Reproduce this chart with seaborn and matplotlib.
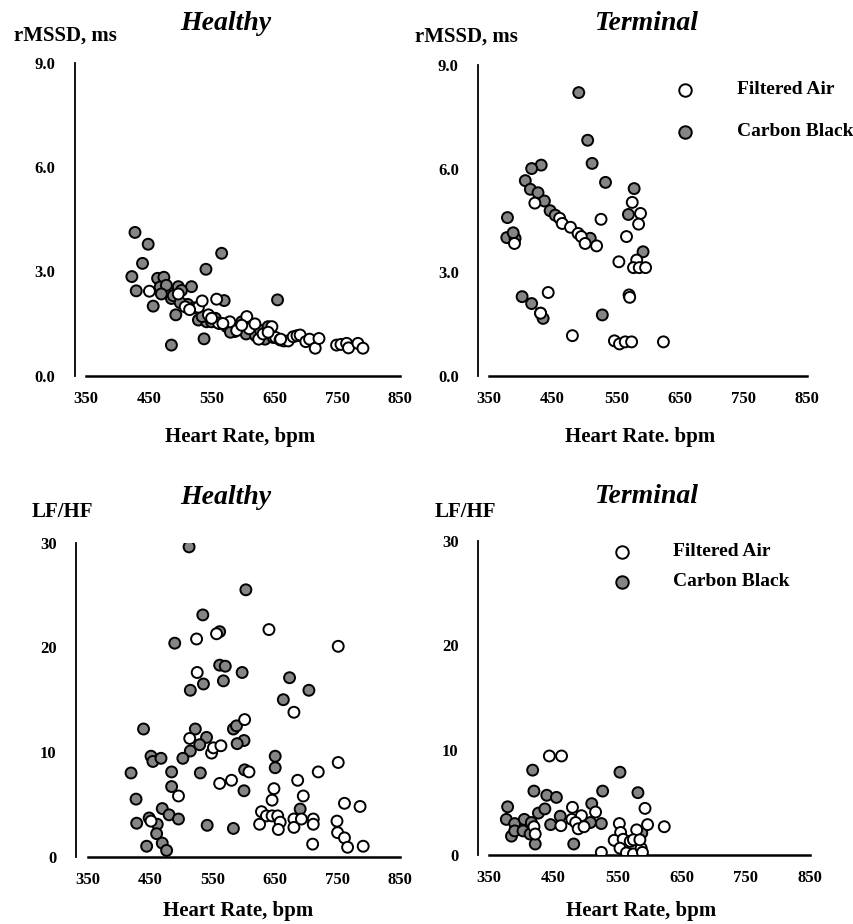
import numpy as np
import pandas as pd
import matplotlib
matplotlib.use("Agg")
import matplotlib.pyplot as plt
import seaborn as sns

# ---------------- data ----------------
# Healthy rMSSD
h_rm_cb_x = [428, 449, 440, 566, 541, 423, 430, 457, 464, 474, 481, 497, 486, 493, 518, 508, 529, 542,
             570, 574, 587, 486, 538, 655, 468, 478, 489, 502, 512, 522, 535, 550, 556, 563, 580, 592,
             598, 605, 612, 620, 628, 635, 640, 648, 470, 500]
h_rm_cb_y = [4.12, 3.78, 3.23, 3.52, 3.06, 2.85, 2.44, 2.00, 2.80, 2.83, 2.42, 2.56, 2.22, 1.75, 2.56, 2.03, 1.60, 1.55,
             2.16, 1.41, 1.27, 0.88, 1.06, 2.18, 2.55, 2.60, 2.30, 2.45, 2.05, 1.95, 1.70, 1.55, 1.65, 1.50, 1.25, 1.35,
             1.55, 1.20, 1.40, 1.15, 1.30, 1.05, 1.41, 1.10, 2.35, 2.10]
h_rm_fa_x = [451, 497, 529, 558, 561, 579, 508, 515, 535, 545, 550, 568, 590, 606, 610, 619, 625, 632, 646, 652,
             659, 665, 672, 680, 686, 691, 700, 706, 715, 721, 749, 756, 765, 768, 783, 791, 598, 640, 660]
h_rm_fa_y = [2.43, 2.35, 1.97, 2.20, 1.51, 1.55, 1.98, 1.90, 2.15, 1.75, 1.65, 1.50, 1.30, 1.70, 1.35, 1.49, 1.05, 1.20,
             1.41, 1.10, 1.03, 1.00, 1.00, 1.12, 1.15, 1.17, 0.98, 1.05, 0.79, 1.07, 0.88, 0.90, 0.93, 0.80, 0.93, 0.79,
             1.45, 1.25, 1.05]

# Terminal rMSSD
t_rm_cb_x = [491, 505, 512, 533, 432, 417, 407, 415, 427, 437, 446, 454, 379, 378, 391, 388, 578, 569, 592, 509,
             402, 417, 431, 435, 528]
t_rm_cb_y = [8.20, 6.82, 6.15, 5.60, 6.10, 6.00, 5.65, 5.40, 5.30, 5.06, 4.78, 4.65, 4.58, 4.00, 3.98, 4.14, 5.42, 4.67,
             3.59, 3.98, 2.29, 2.09, 1.81, 1.66, 1.76]
t_rm_fa_x = [526, 461, 465, 478, 490, 495, 501, 519, 422, 575, 588, 585, 566, 554, 582, 577, 586, 596, 570, 571,
             443, 431, 390, 481, 547, 555, 564, 574, 624]
t_rm_fa_y = [4.53, 4.56, 4.41, 4.30, 4.12, 4.03, 3.83, 3.76, 5.00, 5.02, 4.70, 4.39, 4.03, 3.30, 3.35, 3.13, 3.13, 3.13,
             2.34, 2.27, 2.41, 1.81, 3.83, 1.16, 1.01, 0.92, 0.98, 0.98, 0.98]

# Healthy LF/HF
h_lf_cb_x = [512, 603, 534, 489, 561, 561, 570, 597, 535, 514, 567, 673, 704, 663, 439, 522, 540, 529, 514, 502,
             583, 588, 600, 589, 451, 454, 467, 484, 419, 530, 601, 650, 650, 600, 484, 427, 469, 480, 495, 428,
             448, 461, 460, 469, 476, 444, 541, 583, 690]
h_lf_cb_y = [29.6, 25.5, 23.1, 20.4, 21.5, 18.3, 18.2, 17.6, 16.5, 15.9, 16.8, 17.1, 15.9, 15.0, 12.2, 12.2, 11.4, 10.7,
             10.1, 9.4, 12.2, 12.5, 11.1, 10.8, 9.6, 9.1, 9.4, 8.1, 8.0, 8.0, 8.3, 9.6, 8.5, 6.3, 6.7, 5.5,
             4.6, 4.0, 3.6, 3.2, 3.7, 3.1, 2.2, 1.3, 0.6, 1.0, 3.0, 2.7, 4.55]
h_lf_fa_x = [524, 556, 640, 751, 525, 601, 680, 513, 548, 551, 563, 561, 580, 608, 719, 751, 686, 495, 695, 648,
             645, 628, 636, 645, 654, 658, 655, 625, 680, 680, 692, 711, 711, 710, 761, 786, 749, 750, 761, 766,
             791, 451]
h_lf_fa_y = [20.8, 21.3, 21.7, 20.1, 17.6, 13.1, 13.8, 11.3, 9.9, 10.4, 10.6, 7.0, 7.3, 8.1, 8.1, 9.0, 7.3, 5.8, 5.8, 6.5,
             5.4, 4.3, 3.9, 3.9, 3.9, 3.3, 2.6, 3.1, 3.6, 2.8, 3.6, 3.6, 3.1, 1.2, 5.1, 4.8, 3.4, 2.3, 1.8, 0.9,
             1.0, 3.4]

# Terminal LF/HF
t_lf_cb_x = [418, 554, 420, 527, 582, 440, 455, 510, 379, 377, 390, 405, 416, 427, 437, 446, 461, 385, 390, 403,
             414, 422, 482, 508, 525, 588]
t_lf_cb_y = [8.1, 7.9, 6.1, 6.1, 5.95, 5.7, 5.5, 4.9, 4.6, 3.4, 3.0, 3.4, 3.1, 4.0, 4.4, 2.9, 3.7, 1.8, 2.3, 2.3,
             2.0, 1.05, 1.05, 3.1, 3.0, 2.1]
t_lf_fa_x = [444, 463, 480, 479, 494, 516, 462, 485, 489, 498, 420, 422, 553, 555, 545, 559, 554, 525, 564, 575,
             570, 580, 587, 589, 593, 597, 623, 575, 585]
t_lf_fa_y = [9.45, 9.45, 4.55, 3.4, 3.75, 4.1, 2.8, 3.1, 2.5, 2.7, 2.7, 2.0, 3.0, 2.15, 1.4, 1.5, 0.65, 0.25, 0.2, 0.1,
             1.3, 2.4, 0.65, 0.25, 4.45, 2.9, 2.7, 1.45, 1.45]

groups = ["Carbon Black", "Filtered Air"]
palette = {"Filtered Air": "white", "Carbon Black": "#858585"}


def make_df(cbx, cby, fax, fay):
    return pd.DataFrame({
        "hr": list(cbx) + list(fax),
        "val": list(cby) + list(fay),
        "Group": ["Carbon Black"] * len(cbx) + ["Filtered Air"] * len(fax),
    })


sns.set_theme(style="white")
plt.rcParams["font.family"] = ["Liberation Serif", "DejaVu Serif"]
plt.rcParams["font.weight"] = "bold"
plt.rcParams["text.color"] = "black"
plt.rcParams["axes.labelcolor"] = "black"
plt.rcParams["xtick.color"] = "black"
plt.rcParams["ytick.color"] = "black"

W, H = 854, 924
fig = plt.figure(figsize=(W / 100, H / 100), dpi=100)


def px_axes(x0, x1, ytop, ybot):
    return fig.add_axes([x0 / W, 1 - ybot / H, (x1 - x0) / W, (ybot - ytop) / H])


panels = [
    dict(box=(86, 400, 62.7, 375.7), off=11, df=make_df(h_rm_cb_x, h_rm_cb_y, h_rm_fa_x, h_rm_fa_y),
         ylim=(0, 9), yticks=[0, 3, 6, 9], yfmt="{:.1f}", title="Healthy", title_xy=(226, 23),
         ylab="rMSSD, ms", ylab_xy=(65, 36), xlab="Heart Rate, bpm", xlab_xy=(240, 437), legend=None),
    dict(box=(489, 807.3, 65, 375.7), off=10.7, df=make_df(t_rm_cb_x, t_rm_cb_y, t_rm_fa_x, t_rm_fa_y),
         ylim=(0, 9), yticks=[0, 3, 6, 9], yfmt="{:.1f}", title="Terminal", title_xy=(647, 23),
         ylab="rMSSD, ms", ylab_xy=(466, 37), xlab="Heart Rate. bpm", xlab_xy=(640, 437),
         legend=dict(x=685, y1=90, y2=132, tx=737)),
    dict(box=(88, 400, 542.7, 856.7), off=12, df=make_df(h_lf_cb_x, h_lf_cb_y, h_lf_fa_x, h_lf_fa_y),
         ylim=(0, 30), yticks=[0, 10, 20, 30], yfmt="{:.0f}", title="Healthy", title_xy=(226, 498),
         ylab="LF/HF", ylab_xy=(62, 512), xlab="Heart Rate, bpm", xlab_xy=(238, 911), legend=None),
    dict(box=(489, 810, 540.7, 855), off=11, df=make_df(t_lf_cb_x, t_lf_cb_y, t_lf_fa_x, t_lf_fa_y),
         ylim=(0, 30), yticks=[0, 10, 20, 30], yfmt="{:.0f}", title="Terminal", title_xy=(647, 497),
         ylab="LF/HF", ylab_xy=(465, 512), xlab="Heart Rate, bpm", xlab_xy=(641, 911),
         legend=dict(x=622, y1=552, y2=582, tx=673)),
]

for p in panels:
    x0, x1, yt, yb = p["box"]
    ax = px_axes(x0, x1, yt, yb)
    sns.scatterplot(data=p["df"], x="hr", y="val", hue="Group", hue_order=groups, palette=palette,
                    s=62, edgecolor="black", linewidth=1.4, legend=False, ax=ax, zorder=3)
    ax.set_xlim(350, 850)
    ax.set_ylim(*p["ylim"])
    ax.set_xticks([350, 450, 550, 650, 750, 850])
    ax.set_xticklabels(["350", "450", "550", "650", "750", "850"])
    ax.set_yticks(p["yticks"])
    ax.set_yticklabels([p["yfmt"].format(v) for v in p["yticks"]])
    ax.set_xlabel("")
    ax.set_ylabel("")
    ax.set_facecolor("none")
    for s in ["top", "right"]:
        ax.spines[s].set_visible(False)
    ax.spines["left"].set_position(("outward", p["off"] * 0.72))
    ax.spines["left"].set_color("black")
    ax.spines["left"].set_linewidth(1.3)
    ax.spines["bottom"].set_color("black")
    ax.spines["bottom"].set_linewidth(1.8)
    ax.tick_params(axis="x", direction="in", length=4, width=1.3, color="black", pad=11,
                   labelsize=12, labelcolor="black")
    ax.tick_params(axis="y", direction="in", length=4, width=1.3, color="black", pad=14,
                   labelsize=12, labelcolor="black")
    for lab in ax.get_xticklabels() + ax.get_yticklabels():
        lab.set_fontweight("bold")
    ax.grid(False)

    fig.text(p["title_xy"][0] / W, 1 - p["title_xy"][1] / H, p["title"], ha="center", va="center",
             fontsize=20, fontweight="bold", fontstyle="italic", color="black")
    fig.text(p["ylab_xy"][0] / W, 1 - p["ylab_xy"][1] / H, p["ylab"], ha="center", va="center",
             fontsize=15, fontweight="bold", color="black")
    fig.text(p["xlab_xy"][0] / W, 1 - p["xlab_xy"][1] / H, p["xlab"], ha="center", va="center",
             fontsize=15, fontweight="bold", color="black")

    lg = p["legend"]
    if lg is not None:
        for g, yy in zip(["Filtered Air", "Carbon Black"], [lg["y1"], lg["y2"]]):
            ax.plot([lg["x"] / W], [1 - yy / H], marker="o", markersize=9, linestyle="none",
                    markerfacecolor=palette[g], markeredgecolor="black", markeredgewidth=1.4,
                    transform=fig.transFigure, clip_on=False)
            fig.text(lg["tx"] / W, 1 - yy / H, g, ha="left", va="center", fontsize=14,
                     fontweight="bold", color="black")

fig.savefig("out.png", dpi=100)
